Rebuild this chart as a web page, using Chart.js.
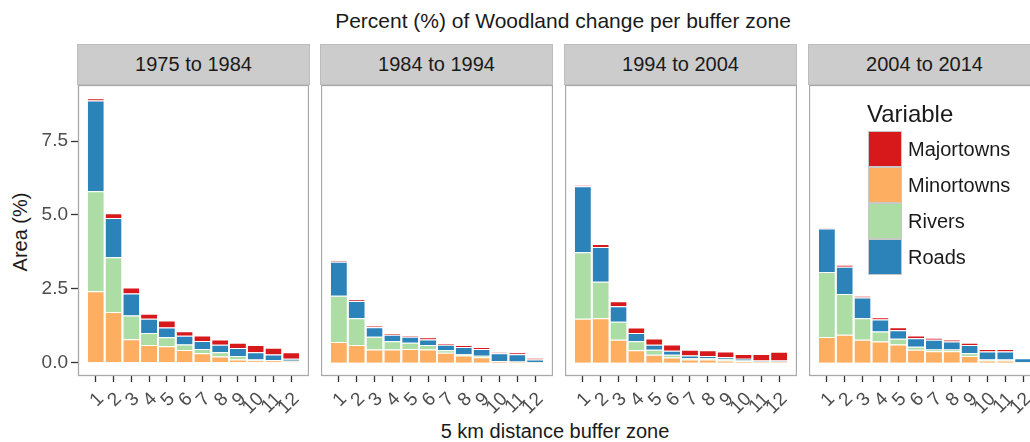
<!DOCTYPE html>
<html>
<head>
<meta charset="utf-8">
<script src="https://cdn.jsdelivr.net/npm/chart.js@4/dist/chart.umd.min.js"></script>
<style>
  html, body { margin: 0; padding: 0; background: #fff; }
  body {
    width: 1030px; height: 442px; overflow: hidden; position: relative;
    font-family: 'Liberation Sans', Arial, sans-serif; color: #1a1a1a;
  }
  .abs { position: absolute; }
  .strip {
    position: absolute; top: 44px; height: 41px; box-sizing: border-box;
    background: #cccccc; border: 1px solid #bdbdbd;
    text-align: center; line-height: 39px; font-size: 20px;
  }
  canvas { position: absolute; }
  .key {
    position: absolute; left: 868px; width: 34px; height: 36px; box-sizing: border-box;
    border: 1.5px solid #c8c8c8;
  }
  .key-label { position: absolute; left: 908px; font-size: 20px; line-height: 36px; }
</style>
</head>
<body>
<div class="abs" style="left:263px; top:9px; width:600px; text-align:center; font-size:21px; line-height:24px;">Percent (%) of Woodland change per buffer zone</div>
<div class="abs" style="left:-80px; top:220px; width:200px; text-align:center; font-size:20px; line-height:24px; transform:rotate(-90deg);">Area (%)</div>
<div class="abs" style="left:355px; top:419px; width:400px; text-align:center; font-size:20px; line-height:24px;">5 km distance buffer zone</div>
<div id="faixas"></div>
<canvas id="painel-0" width="309" height="336" style="left:0px; top:85px;"></canvas>
<canvas id="painel-1" width="232" height="336" style="left:321px; top:85px;"></canvas>
<canvas id="painel-2" width="232" height="336" style="left:565px; top:85px;"></canvas>
<canvas id="painel-3" width="232" height="336" style="left:809px; top:85px;"></canvas>
<div id="legenda"></div>

<script>
// dados (um array por período, 12 zonas de 5 km)
const periods = ['1975 to 1984', '1984 to 1994', '1994 to 2004', '2004 to 2014'];
const zones = [1, 2, 3, 4, 5, 6, 7, 8, 9, 10, 11, 12];
const yTicks = [0, 2.5, 5, 7.5];
const variables = ['Majortowns', 'Minortowns', 'Rivers', 'Roads'];

const majortowns = [
    [0.08, 0.16, 0.21, 0.17, 0.24, 0.16, 0.18, 0.18, 0.18, 0.24, 0.23, 0.22],
    [0.03, 0.05, 0.06, 0.04, 0.04, 0.07, 0.05, 0.07, 0.06, 0.04, 0.07, 0.05],
    [0.04, 0.10, 0.17, 0.18, 0.21, 0.21, 0.19, 0.19, 0.19, 0.16, 0.22, 0.29],
    [0.03, 0.07, 0.05, 0.08, 0.10, 0.09, 0.06, 0.07, 0.08, 0.09, 0.09, 0.01]
];
const minortowns = [
    [2.42, 1.72, 0.80, 0.60, 0.56, 0.43, 0.32, 0.21, 0.11, 0.08, 0.08, 0.06],
    [0.70, 0.60, 0.45, 0.45, 0.47, 0.45, 0.34, 0.25, 0.19, 0.05, 0.03, 0.02],
    [1.49, 1.51, 0.78, 0.42, 0.27, 0.18, 0.11, 0.11, 0.08, 0.05, 0.03, 0.03],
    [0.87, 0.95, 0.78, 0.72, 0.62, 0.44, 0.39, 0.39, 0.23, 0.08, 0.08, 0.02]
];
const rivers = [
    [3.38, 1.85, 0.80, 0.41, 0.30, 0.19, 0.15, 0.15, 0.12, 0.03, 0.01, 0.01],
    [1.57, 0.91, 0.43, 0.28, 0.21, 0.15, 0.08, 0.05, 0.05, 0.01, 0.01, 0.00],
    [2.25, 1.23, 0.61, 0.31, 0.17, 0.09, 0.05, 0.05, 0.04, 0.03, 0.01, 0.01],
    [2.20, 1.38, 0.73, 0.34, 0.19, 0.10, 0.06, 0.06, 0.09, 0.03, 0.03, 0.01]
];
const roads = [
    [3.07, 1.33, 0.74, 0.48, 0.33, 0.29, 0.27, 0.25, 0.27, 0.25, 0.19, 0.07],
    [1.15, 0.58, 0.32, 0.22, 0.20, 0.19, 0.19, 0.23, 0.23, 0.26, 0.25, 0.09],
    [2.23, 1.18, 0.52, 0.28, 0.17, 0.14, 0.09, 0.07, 0.07, 0.06, 0.04, 0.04],
    [1.47, 0.92, 0.70, 0.40, 0.29, 0.29, 0.33, 0.27, 0.28, 0.27, 0.27, 0.12]
];

const series = { Majortowns: majortowns, Minortowns: minortowns, Rivers: rivers, Roads: roads };
const cores = { Majortowns: '#d7191c', Minortowns: '#fdae61', Rivers: '#abdda4', Roads: '#2b83ba' };
// empilhamento de baixo para cima
const ordemPilha = ['Minortowns', 'Rivers', 'Roads', 'Majortowns'];

const painelLeft = [78, 321, 565, 809];
const painelW = 231;

const bordaPainel = {
    id: 'bordaPainel',
    afterDraw(chart) {
        const a = chart.chartArea;
        const ctx = chart.ctx;
        ctx.save();
        ctx.strokeStyle = '#a9a9a9';
        ctx.lineWidth = 1.3;
        ctx.strokeRect(a.left + 0.5, a.top + 0.5, a.right - a.left - 1, a.bottom - a.top - 1);
        ctx.restore();
    }
};

// tira o padding automático que o Chart.js coloca para os rótulos
function semPadding(ax) {
    ax.paddingLeft = 0;
    ax.paddingRight = 0;
    ax.paddingTop = 0;
    ax.paddingBottom = 0;
}

function criarPainel(i) {
    const comEixoY = i === 0;
    const ctx = document.getElementById('painel-' + i).getContext('2d');
    new Chart(ctx, {
        type: 'bar',
        data: {
            datasets: ordemPilha.map(nome => ({
                label: nome,
                data: zones.map((z, k) => ({ x: z, y: series[nome][i][k] })),
                backgroundColor: cores[nome],
                borderColor: '#ffffff',
                borderWidth: { top: 1, right: 0, bottom: 0, left: 0 },
                borderSkipped: false,
                barPercentage: 0.9,
                categoryPercentage: 1
            }))
        },
        options: {
            responsive: false,
            animation: false,
            layout: { padding: 0 },
            plugins: { legend: { display: false }, tooltip: { enabled: false } },
            scales: {
                x: {
                    type: 'linear',
                    stacked: true,
                    offset: false,
                    min: 0,
                    max: 13,
                    afterBuildTicks: ax => { ax.ticks = zones.map(v => ({ value: v })); },
                    afterFit: ax => { ax.height = 45; semPadding(ax); },
                    ticks: {
                        autoSkip: false,
                        minRotation: 45,
                        maxRotation: 45,
                        padding: 6,
                        labelOffset: 5,
                        color: '#4d4d4d',
                        font: { family: "'Liberation Sans', Arial, sans-serif", size: 19 },
                        callback: v => String(v)
                    },
                    grid: { offset: false, drawOnChartArea: false, drawTicks: true, tickLength: 6, tickColor: '#333333', tickWidth: 1.3 },
                    border: { display: false }
                },
                y: {
                    stacked: true,
                    display: comEixoY,
                    min: -0.4475,
                    max: 9.3975,
                    afterBuildTicks: ax => { ax.ticks = yTicks.map(v => ({ value: v })); },
                    afterFit: ax => { ax.width = comEixoY ? 78 : 0; semPadding(ax); },
                    ticks: {
                        padding: 3,
                        color: '#4d4d4d',
                        font: { family: "'Liberation Sans', Arial, sans-serif", size: 19 },
                        callback: v => v.toFixed(1)
                    },
                    grid: { drawOnChartArea: false, drawTicks: true, tickLength: 7, tickColor: '#333333', tickWidth: 1.3 },
                    border: { display: false }
                }
            }
        },
        plugins: [bordaPainel]
    });
}

// faixas com os períodos
document.getElementById('faixas').innerHTML = periods.map((p, i) =>
    `<div class="strip" style="left:${painelLeft[i] - 1}px; width:${painelW + 2}px;">${p}</div>`
).join('');

periods.forEach((p, i) => criarPainel(i));

// legenda dentro do último painel
document.getElementById('legenda').innerHTML =
    `<div class="abs" style="left:867px; top:100px; font-size:24px; line-height:28px;">Variable</div>` +
    variables.map((v, i) => `
        <div class="key" style="top:${131 + i * 36}px; background:${cores[v]};"></div>
        <div class="key-label" style="top:${131 + i * 36}px;">${v}</div>
    `).join('');
</script>
</body>
</html>
